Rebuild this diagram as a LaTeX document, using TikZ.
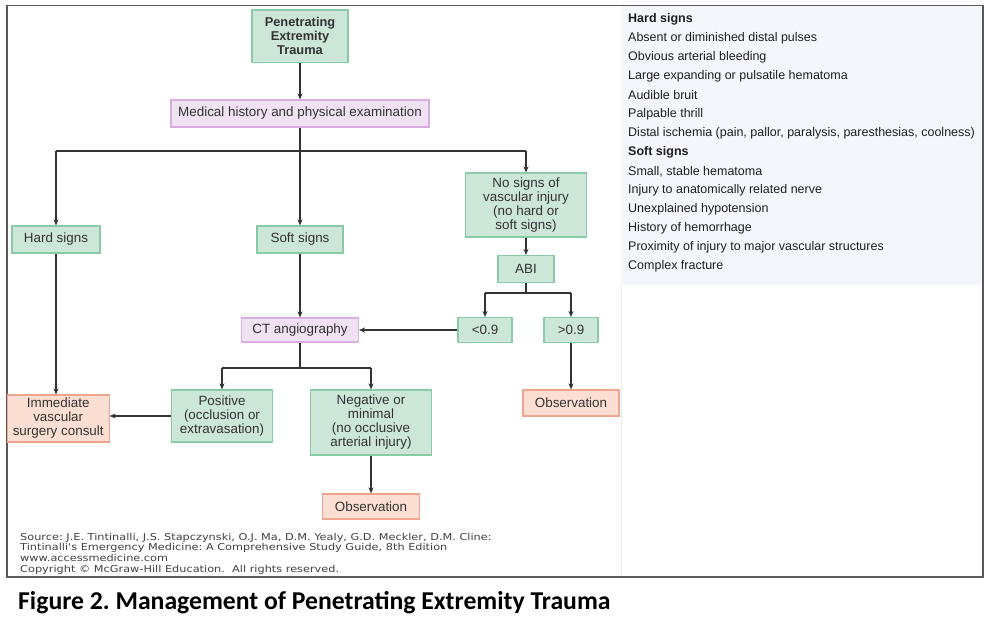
\documentclass[tikz,border=0pt]{standalone}
\usepackage{fontspec}
\setmainfont{Liberation Sans}
\newfontfamily\srcfont{DejaVu Sans}
\newfontfamily\capfont{Carlito}
\usetikzlibrary{arrows.meta}
\definecolor{gfill}{HTML}{CCE6D8}
\definecolor{gdraw}{HTML}{88CBA6}
\definecolor{pfill}{HTML}{F0E1F3}
\definecolor{pdraw}{HTML}{D8AEE0}
\definecolor{ofill}{HTML}{FCDFD2}
\definecolor{odraw}{HTML}{F0A68E}
\definecolor{panel}{HTML}{F3F6FB}
\definecolor{txt}{HTML}{333333}
\definecolor{arr}{HTML}{333333}
\definecolor{frame}{HTML}{5A5A5A}
\frenchspacing
\begin{document}
\begin{tikzpicture}[x=1pt,y=-1pt,
  box/.style={draw, line width=1.1pt, inner sep=0pt, align=center, text=txt,
    font=\fontsize{13.4}{14}\selectfont},
  gbox/.style={box, fill=gfill, draw=gdraw},
  pbox/.style={box, fill=pfill, draw=pdraw},
  obox/.style={box, fill=ofill, draw=odraw},
  conn/.style={draw=arr, line width=1.7pt, -{Stealth[length=6pt,width=5pt]}},
  plain/.style={draw=arr, line width=1.7pt},
  sign/.style={anchor=west, inner sep=0pt, text=black!88, font=\fontsize{12.5}{14}\selectfont},
  src/.style={anchor=base west, inner sep=0pt, text=black!75, font=\srcfont\fontsize{9.5}{10}\selectfont}
]
\useasboundingbox (0,0) rectangle (989,621);
% frame and right panel
\fill[white] (7,5.5) rectangle (983,577);
\fill[panel] (621,6) rectangle (982.4,285);
\draw[black!7, line width=0.8pt] (621,285) -- (621,576.5);
\draw[frame, line width=1.2pt] (7,5.5) rectangle (983,577);

% nodes
\node[gbox, minimum width=96pt, minimum height=52.7pt, font=\bfseries\fontsize{12.8}{14}\selectfont] (pet) at (300,36.3) {Penetrating\\Extremity\\Trauma};
\node[pbox, minimum width=258pt, minimum height=27pt] (med) at (300,113.5) {Medical history and physical examination};
\node[gbox, minimum width=88pt, minimum height=27pt] (hard) at (56,239.5) {Hard signs};
\node[gbox, minimum width=86pt, minimum height=27pt] (soft) at (300,239.5) {Soft signs};
\node[gbox, minimum width=121.7pt, minimum height=64pt] (nosig) at (526,205) {No signs of\\vascular injury\\(no hard or\\soft signs)};
\node[gbox, minimum width=56pt, minimum height=27pt] (abi) at (526,269) {ABI};
\node[gbox, minimum width=54pt, minimum height=25pt] (lt) at (485,330) {<0.9};
\node[gbox, minimum width=54pt, minimum height=25pt] (gt) at (571,330) {>0.9};
\node[pbox, minimum width=117pt, minimum height=24pt] (ct) at (300,330) {CT angiography};
\node[gbox, minimum width=101pt, minimum height=52pt] (pos) at (222,416) {Positive\\(occlusion or\\extravasation)};
\node[gbox, minimum width=121pt, minimum height=65pt] (neg) at (371,422.5) {Negative or\\minimal\\(no occlusive\\arterial injury)};
\node[obox, minimum width=101.7pt, minimum height=47pt] (imm) at (58.2,418.5) {Immediate\\vascular\\surgery consult};
\node[obox, minimum width=96pt, minimum height=26pt] (obsr) at (571,403) {Observation};
\node[obox, minimum width=97pt, minimum height=25pt] (obsb) at (371,506.5) {Observation};

% connectors
\coordinate (b1) at (0,151);
\coordinate (b2) at (0,293);
\coordinate (b3) at (0,368);
\draw[conn] (pet) -- (med);
\draw[conn] (med) -- (soft);
\draw[plain] (hard.north |- b1) -- (nosig.north |- b1);
\draw[conn] (hard.north |- b1) -- (hard.north);
\draw[conn] (nosig.north |- b1) -- (nosig.north);
\draw[conn] (nosig) -- (abi);
\draw[plain] (abi.south) -- (abi.south |- b2);
\draw[plain] (lt.north |- b2) -- (gt.north |- b2);
\draw[conn] (lt.north |- b2) -- (lt.north);
\draw[conn] (gt.north |- b2) -- (gt.north);
\draw[conn] (soft) -- (ct);
\draw[conn] (lt) -- (ct);
\draw[conn] (gt) -- (obsr);
\draw[plain] (ct.south) -- (ct.south |- b3);
\draw[plain] (pos.north |- b3) -- (neg.north |- b3);
\draw[conn] (pos.north |- b3) -- (pos.north);
\draw[conn] (neg.north |- b3) -- (neg.north);
\draw[conn] (hard.south) -- (hard.south |- imm.north);
\draw[conn] (pos.west) -- (pos.west -| imm.east);
\draw[conn] (neg) -- (obsb);

% right panel text
\node[sign, font=\bfseries\fontsize{12.5}{14}\selectfont] (r0) at (628,19.3) {Hard signs};
\node[sign] (r1) at (628,38.3) {Absent or diminished distal pulses};
\node[sign] (r2) at (628,57.4) {Obvious arterial bleeding};
\node[sign] (r3) at (628,76.4) {Large expanding or pulsatile hematoma};
\node[sign] (r4) at (628,95.4) {Audible bruit};
\node[sign] (r5) at (628,114.5) {Palpable thrill};
\node[sign] (r6) at (628,133.5) {Distal ischemia (pain, pallor, paralysis, paresthesias, coolness)};
\node[sign, font=\bfseries\fontsize{12.5}{14}\selectfont] (r7) at (628,152.5) {Soft signs};
\node[sign] (r8) at (628,171.5) {Small, stable hematoma};
\node[sign] (r9) at (628,190.6) {Injury to anatomically related nerve};
\node[sign] (r10) at (628,209.6) {Unexplained hypotension};
\node[sign] (r11) at (628,228.6) {History of hemorrhage};
\node[sign] (r12) at (628,247.7) {Proximity of injury to major vascular structures};
\node[sign] (r13) at (628,266.7) {Complex fracture};

% source
\node[src] (s1) at (20,540) {\scalebox{1.19}[1]{Source: J.E. Tintinalli, J.S. Stapczynski, O.J. Ma, D.M. Yealy, G.D. Meckler, D.M. Cline:}};
\node[src] (s2) at (20,550.8) {\scalebox{1.19}[1]{Tintinalli's Emergency Medicine: A Comprehensive Study Guide, 8th Edition}};
\node[src] (s3) at (20,561.6) {\scalebox{1.19}[1]{www.accessmedicine.com}};
\node[src] (s4) at (20,572.4) {\scalebox{1.19}[1]{Copyright \textcopyright{} McGraw-Hill Education.\ \ All rights reserved.}};

% caption
\node[anchor=base west, inner sep=0pt, font=\capfont\bfseries\fontsize{25.7}{28}\selectfont] (cap) at (18,609) {Figure 2. Management of Penetrating Extremity Trauma};
\end{tikzpicture}
\end{document}
